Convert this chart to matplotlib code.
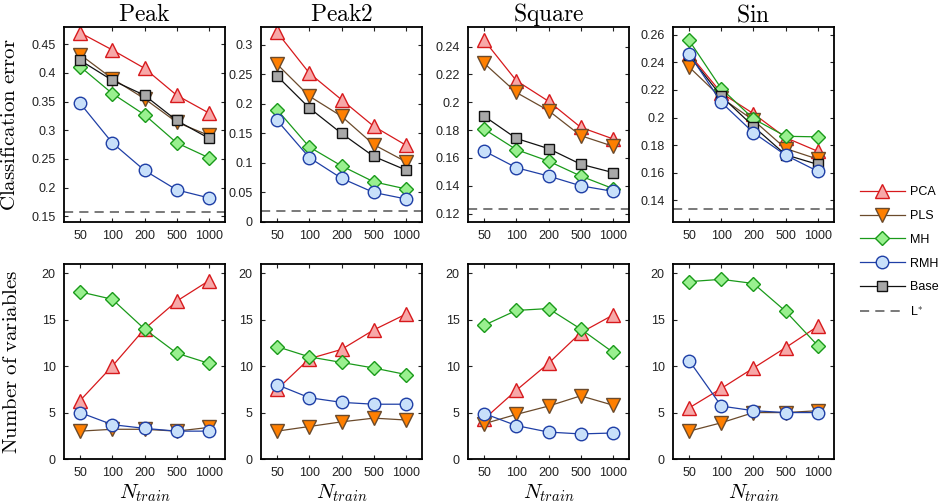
import numpy as np
import matplotlib
matplotlib.use("Agg")
from matplotlib import pyplot as plt
from matplotlib import ticker
from matplotlib.lines import Line2D

plt.rcParams["font.family"] = ["Liberation Sans", "DejaVu Sans"]
plt.rcParams["mathtext.fontset"] = "cm"

n_train = ["50", "100", "200", "500", "1000"]
datasets = ["Peak", "Peak2", "Square", "Sin"]
methods = ["PCA", "PLS", "MH", "RMH", "Base"]

# classification error per dataset
err_pca = {
    "Peak": [0.470, 0.440, 0.408, 0.361, 0.330],
    "Peak2": [0.321, 0.252, 0.207, 0.162, 0.130],
    "Square": [0.2445, 0.2155, 0.2007, 0.182, 0.1737],
    "Sin": [0.2462, 0.2178, 0.2028, 0.1854, 0.1755],
}
err_pls = {
    "Peak": [0.432, 0.390, 0.355, 0.314, 0.291],
    "Peak2": [0.267, 0.213, 0.179, 0.131, 0.102],
    "Square": [0.228, 0.207, 0.194, 0.176, 0.1684],
    "Sin": [0.2366, 0.2143, 0.198, 0.1775, 0.1698],
}
err_mh = {
    "Peak": [0.411, 0.364, 0.327, 0.278, 0.252],
    "Peak2": [0.190, 0.127, 0.095, 0.068, 0.056],
    "Square": [0.1807, 0.166, 0.1577, 0.147, 0.138],
    "Sin": [0.2559, 0.221, 0.199, 0.1864, 0.186],
}
err_rmh = {
    "Peak": [0.347, 0.278, 0.230, 0.196, 0.182],
    "Peak2": [0.172, 0.109, 0.074, 0.050, 0.039],
    "Square": [0.165, 0.153, 0.147, 0.140, 0.136],
    "Sin": [0.2462, 0.211, 0.189, 0.1727, 0.161],
}
err_base = {
    "Peak": [0.422, 0.387, 0.361, 0.317, 0.286],
    "Peak2": [0.247, 0.193, 0.150, 0.111, 0.088],
    "Square": [0.190, 0.174, 0.1667, 0.1555, 0.1495],
    "Sin": [0.245, 0.2155, 0.1935, 0.173, 0.166],
}
err_lstar = {"Peak": 0.158, "Peak2": 0.019, "Square": 0.123, "Sin": 0.1334}

# number of selected variables per dataset
nvar_pca = {
    "Peak": [6.3, 10.0, 14.0, 17.0, 19.2],
    "Peak2": [7.5, 10.8, 11.8, 13.9, 15.6],
    "Square": [4.3, 7.4, 10.3, 13.6, 15.5],
    "Sin": [5.5, 7.6, 9.8, 12.0, 14.3],
}
nvar_pls = {
    "Peak": [3.0, 3.2, 3.2, 3.0, 3.4],
    "Peak2": [3.0, 3.5, 4.0, 4.4, 4.2],
    "Square": [3.8, 4.8, 5.7, 6.8, 5.8],
    "Sin": [3.0, 3.9, 5.0, 5.0, 5.2],
}
nvar_mh = {
    "Peak": [18.0, 17.2, 14.0, 11.4, 10.3],
    "Peak2": [12.1, 11.0, 10.4, 9.8, 9.1],
    "Square": [14.4, 16.0, 16.2, 14.0, 11.5],
    "Sin": [19.1, 19.35, 18.9, 15.9, 12.2],
}
nvar_rmh = {
    "Peak": [5.0, 3.7, 3.3, 3.0, 3.0],
    "Peak2": [8.0, 6.6, 6.1, 5.9, 5.9],
    "Square": [4.9, 3.6, 2.9, 2.7, 2.8],
    "Sin": [10.6, 5.7, 5.2, 5.0, 5.0],
}

err_ylim = {
    "Peak": (0.14, 0.48),
    "Peak2": (0.0, 0.33),
    "Square": (0.114, 0.254),
    "Sin": (0.1243, 0.2656),
}
err_ticks = {
    "Peak": [0.15, 0.2, 0.25, 0.3, 0.35, 0.4, 0.45],
    "Peak2": [0, 0.05, 0.1, 0.15, 0.2, 0.25, 0.3],
    "Square": [0.12, 0.14, 0.16, 0.18, 0.2, 0.22, 0.24],
    "Sin": [0.14, 0.16, 0.18, 0.2, 0.22, 0.24, 0.26],
}
nvar_ticks = [0, 5, 10, 15, 20]

# line color, face color, marker, size
styles = {
    "PCA": ("#d7191c", "#f7a8a8", "^", 9.5),
    "PLS": ("#6b4a2b", "#ff7f00", "v", 9.5),
    "MH": ("#1a9a1a", "#99f08f", "D", 7),
    "RMH": ("#1f3fa6", "#c8e0fa", "o", 9),
    "Base": ("#111111", "#a8a8a8", "s", 7.5),
}
draw_order = ["PCA", "PLS", "MH", "Base", "RMH"]

fig = plt.figure(figsize=(9.45, 5.03), dpi=100)
lefts = [64 / 945, 261 / 945, 468 / 945, 673 / 945]
width = 161 / 945
height = 195 / 503
top_bottom = 1 - 222 / 503
low_bottom = 1 - 459 / 503

x = np.arange(1, len(n_train) + 1)


def style_axes(ax):
    ax.set_xlim(0.5, 5.5)
    ax.set_xticks(x)
    ax.set_xticklabels(n_train)
    ax.tick_params(direction="in", top=True, right=True, length=3,
                   labelsize=9, pad=6, colors="#222222")
    ax.yaxis.set_major_formatter(ticker.FormatStrFormatter("%g"))
    for sp in ax.spines.values():
        sp.set_linewidth(1.3)


def draw(ax, series, name):
    lc, fc, mk, ms = styles[name]
    ax.plot(x, series, color=lc, linewidth=0.9, marker=mk, markersize=ms,
            markerfacecolor=fc, markeredgecolor=lc, markeredgewidth=1.0)


for i, ds in enumerate(datasets):
    ax = fig.add_axes([lefts[i], top_bottom, width, height])
    err = {"PCA": err_pca, "PLS": err_pls, "MH": err_mh,
           "RMH": err_rmh, "Base": err_base}
    for m in draw_order:
        draw(ax, err[m][ds], m)
    ax.axhline(err_lstar[ds], color="#555555", linestyle=(0, (6, 4)),
               linewidth=1.1)
    ax.set_ylim(*err_ylim[ds])
    ax.set_yticks(err_ticks[ds])
    style_axes(ax)
    ax.set_title(r"$\mathrm{%s}$" % ds, fontsize=17, pad=4)
    if i == 0:
        ax.set_ylabel(r"$\mathrm{Classification\ error}$", fontsize=15)
        ax.yaxis.set_label_coords(-0.28, 0.5)

    ax2 = fig.add_axes([lefts[i], low_bottom, width, height])
    nvar = {"PCA": nvar_pca, "PLS": nvar_pls, "MH": nvar_mh,
            "RMH": nvar_rmh}
    for m in ["PCA", "PLS", "MH", "RMH"]:
        draw(ax2, nvar[m][ds], m)
    ax2.set_ylim(0, 21)
    ax2.set_yticks(nvar_ticks)
    style_axes(ax2)
    ax2.set_xlabel(r"$N_{train}$", fontsize=15, labelpad=2)
    if i == 0:
        ax2.set_ylabel(r"$\mathrm{Number\ of\ variables}$", fontsize=15)
        ax2.yaxis.set_label_coords(-0.27, 0.5)

handles = []
for m in methods:
    lc, fc, mk, ms = styles[m]
    handles.append(Line2D([], [], color=lc, linewidth=0.9, marker=mk,
                          markersize=ms, markerfacecolor=fc,
                          markeredgecolor=lc))
handles.append(Line2D([], [], color="#555555", linestyle=(0, (6, 4)),
                      linewidth=1.1))
fig.legend(handles, methods + [r"L$^{*}$"], loc="upper left",
           bbox_to_anchor=(855 / 945, 1 - 181 / 503), frameon=False,
           fontsize=9, handlelength=3.6, handletextpad=0.4,
           labelspacing=0.95, borderaxespad=0)

fig.savefig("out.png", dpi=100)
